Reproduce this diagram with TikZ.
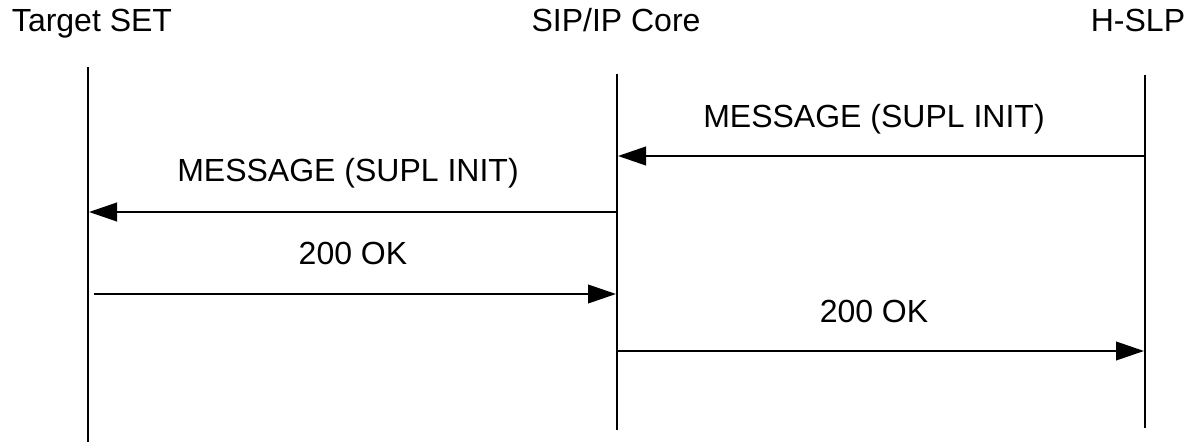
\documentclass[tikz,border=0pt]{standalone}
\usepackage{fontspec}
\setmainfont{Liberation Sans}
\usetikzlibrary{arrows.meta}
\tikzset{
    lifeline/.style={
        line width=1.4pt,
        black
    },
    message/.style={
        line width=1.4pt,
        black,
        -{Triangle[length=21pt,width=14pt]}
    },
    party/.style={
        anchor=base,
        inner sep=0pt,
        font=\fontsize{24}{28}\selectfont
    },
    msglabel/.style={
        anchor=base,
        inner sep=0pt,
        font=\fontsize{24}{28}\selectfont
    }
}
\begin{document}
\begin{tikzpicture}[x=0.75pt,y=-0.75pt]
                \useasboundingbox (0,0) rectangle (1193,442);
                \node[party] (SET) at (92,32) {Target SET};
                \node[party] (CORE) at (616,32) {SIP/IP Core};
                \node[party] (SLP) at (1138,32) {H-SLP};
                \coordinate (T1) at (88,67);
                \coordinate (T2) at (88,442);
                \coordinate (C1) at (617,74);
                \coordinate (C2) at (617,430);
                \coordinate (H1) at (1145,75);
                \coordinate (H2) at (1145,428);
                \coordinate (M1a) at (1145,156);
                \coordinate (M1b) at (618,156);
                \coordinate (M2a) at (617,212);
                \coordinate (M2b) at (89,212);
                \coordinate (M3a) at (94,294);
                \coordinate (M3b) at (616,294);
                \coordinate (M4a) at (617,351);
                \coordinate (M4b) at (1144,351);
                \draw[lifeline] (T1) -- (T2);
                \draw[lifeline] (C1) -- (C2);
                \draw[lifeline] (H1) -- (H2);
                \draw[message] (M1a) -- (M1b);
                \draw[message] (M2a) -- (M2b);
                \draw[message] (M3a) -- (M3b);
                \draw[message] (M4a) -- (M4b);
                \node[msglabel] (L1) at (874,128) {MESSAGE (SUPL INIT)};
                \node[msglabel] (L2) at (348,182) {MESSAGE (SUPL INIT)};
                \node[msglabel] (L3) at (353,264) {200 OK};
                \node[msglabel] (L4) at (874,322) {200 OK};
            \end{tikzpicture}
\end{document}
